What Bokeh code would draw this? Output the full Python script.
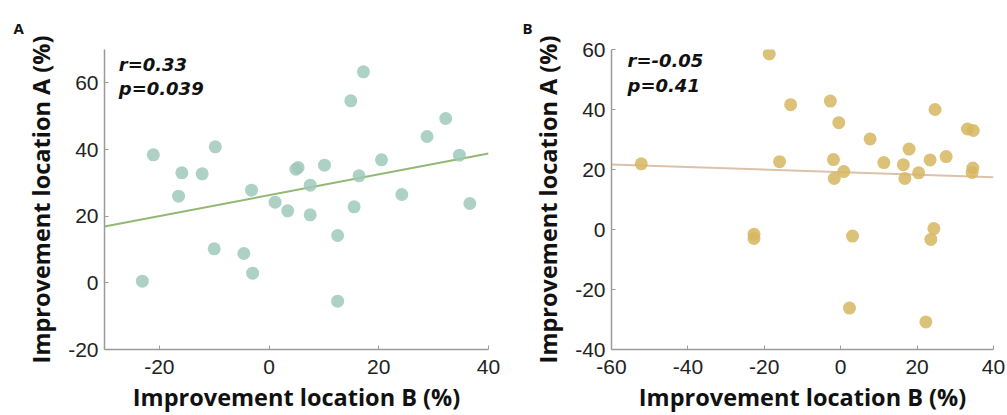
from bokeh.plotting import figure
from bokeh.layouts import row
from bokeh.models import Label, Range1d, FixedTicker
from bokeh.embed import file_html
from bokeh.resources import INLINE

# Panel A data
a_x = [-21.1, -23.1, -16.5, -15.9, -12.2, -9.8, -10.0, -4.6, -3.0, -3.2, 1.1, 3.4, 4.9, 5.3, 7.5,
       7.5, 10.1, 12.5, 12.5, 14.9, 15.5, 16.4, 17.2, 20.5, 24.2, 28.8, 32.2, 34.7, 36.6]
a_y = [38.4, 0.5, 26.0, 33.0, 32.7, 40.8, 10.2, 8.8, 2.9, 27.8, 24.2, 21.6, 34.1, 34.6, 29.3,
       20.4, 35.3, 14.2, -5.5, 54.6, 22.8, 32.1, 63.3, 36.9, 26.5, 43.9, 49.3, 38.3, 23.8]
a_fit_x = [-30, 40]
a_fit_y = [16.9, 38.8]
a_stats = ["r=0.33", "p=0.039"]
a_xticks = [-20, 0, 20, 40]
a_yticks = [-20, 0, 20, 40, 60]

# Panel B data
b_x = [-52.2, -22.7, -22.7, -18.7, -16.0, -13.1, -2.7, -1.9, -1.7, -0.5, 0.8, 3.1, 2.3, 7.7, 11.3,
       16.4, 16.8, 17.9, 20.4, 22.3, 23.4, 23.6, 24.4, 24.7, 27.6, 33.2, 34.7, 34.6, 34.4]
b_y = [21.9, -1.6, -3.0, 58.5, 22.6, 41.6, 42.8, 23.3, 17.0, 35.6, 19.3, -2.2, -26.2, 30.2, 22.3,
       21.6, 17.0, 26.8, 18.9, -30.8, 23.2, -3.3, 0.3, 40.0, 24.3, 33.5, 33.0, 20.5, 19.0]
b_fit_x = [-60, 40]
b_fit_y = [21.7, 17.4]
b_stats = ["r=-0.05", "p=0.41"]
b_xticks = [-60, -40, -20, 0, 20, 40]
b_yticks = [-40, -20, 0, 20, 40, 60]

x_label = "Improvement location B (%)"
y_label = "Improvement location A (%)"

LABEL_FONT = "Open Sans"
STAT_FONT = "DejaVu Sans"
TICK_FONT = "Liberation Sans"


def make_panel(xs, ys, fx, fy, stats, letter, xr, yr, xticks, yticks, dot_color, line_color,
               width, left, right, stat_x, stat_y, letter_offset):
    p = figure(width=width, height=415, output_backend="svg", toolbar_location=None,
               x_range=Range1d(*xr), y_range=Range1d(*yr),
               min_border_left=left, min_border_right=right,
               min_border_top=49, min_border_bottom=63, title=letter)
    p.title.align = "left"
    p.title.offset = letter_offset
    p.title.standoff = 24
    p.title.text_font = LABEL_FONT
    p.title.text_font_style = "bold"
    p.title.text_font_size = "15px"
    p.title.text_color = "#111111"
    p.outline_line_color = None
    p.grid.grid_line_color = None
    p.background_fill_color = "white"
    p.border_fill_color = "white"
    p.line(fx, fy, line_color=line_color, line_width=2)
    p.scatter(xs, ys, size=13, fill_color=dot_color, line_color=None, fill_alpha=0.85)
    for ax in (p.xaxis[0], p.yaxis[0]):
        ax.axis_line_color = "#9a9a9a"
        ax.axis_line_width = 1.5
        ax.major_tick_line_color = "#9a9a9a"
        ax.major_tick_in = 4
        ax.major_tick_out = 0
        ax.minor_tick_line_color = None
        ax.major_label_text_font = TICK_FONT
        ax.major_label_text_font_size = "21px"
        ax.major_label_text_color = "#222222"
        ax.axis_label_text_font = LABEL_FONT
        ax.axis_label_text_font_style = "bold"
        ax.axis_label_text_font_size = "23.5px"
        ax.axis_label_text_color = "#111111"
    p.xaxis.ticker = FixedTicker(ticks=xticks)
    p.yaxis.ticker = FixedTicker(ticks=yticks)
    p.xaxis.major_label_overrides = {t: str(t) for t in xticks}
    p.yaxis.major_label_overrides = {t: str(t) for t in yticks}
    p.xaxis.axis_label = x_label
    p.yaxis.axis_label = y_label
    p.xaxis.major_label_standoff = 10
    p.xaxis.axis_label_standoff = 4
    p.yaxis.major_label_standoff = 6
    p.yaxis.axis_label_standoff = 8
    for i, s in enumerate(stats):
        p.add_layout(Label(x=stat_x, y=stat_y[i], text=s, text_font=STAT_FONT,
                           text_font_style="bold italic", text_font_size="18px",
                           text_color="#111111", text_baseline="alphabetic"))
    return p


pa = make_panel(a_x, a_y, a_fit_x, a_fit_y, a_stats, "A", (-30, 40), (-20, 70),
                a_xticks, a_yticks, "#9fc9bb", "#93b873",
                508, 104, 20, -27.4, [65.6, 58.2], -91)
pb = make_panel(b_x, b_y, b_fit_x, b_fit_y, b_stats, "B", (-60, 40), (-40, 60),
                b_xticks, b_yticks, "#d6b662", "#dcc2aa",
                499, 103, 14, -55.8, [56.2, 47.9], -89)

layout = row(pa, pb)
open("out.html", "w").write(file_html(layout, INLINE))
